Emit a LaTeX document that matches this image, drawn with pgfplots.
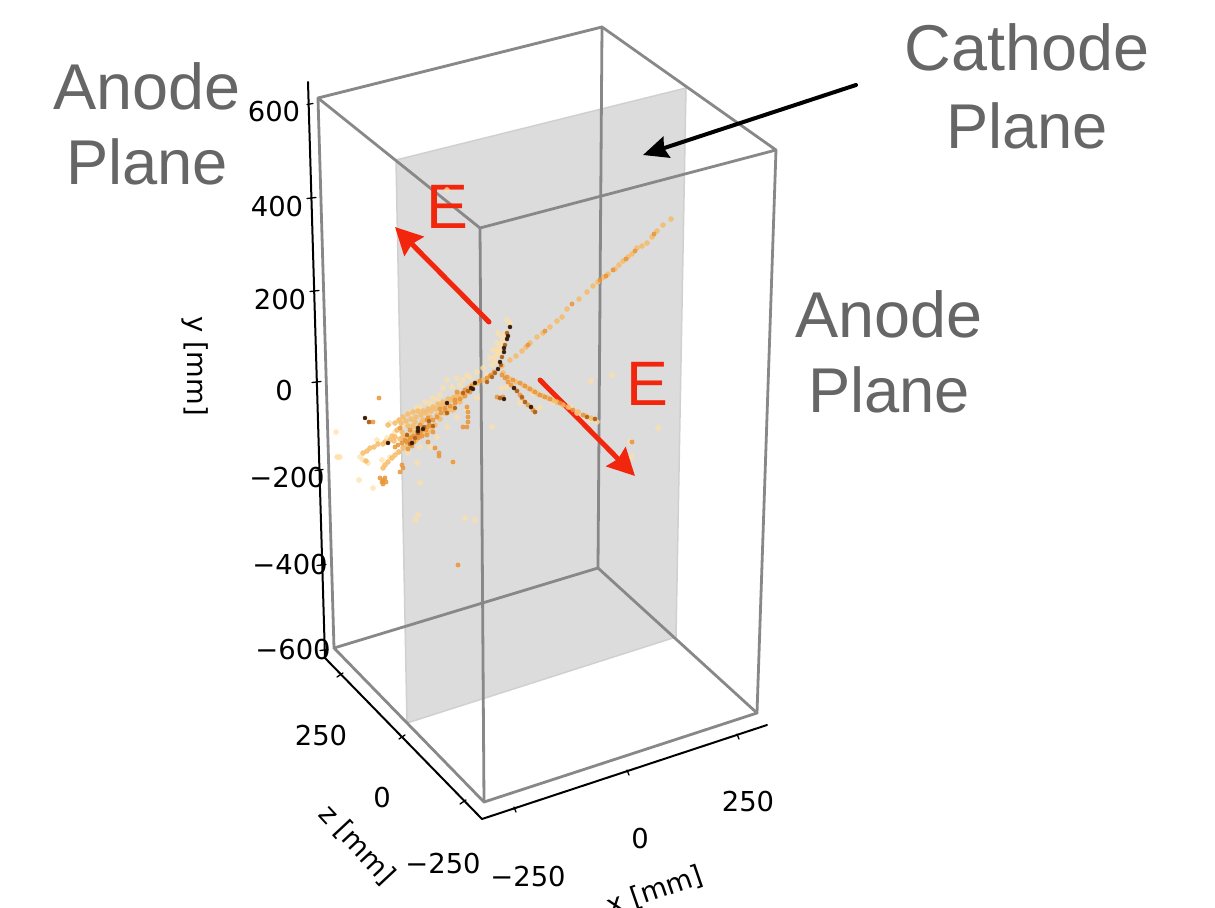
\documentclass[border=0pt]{standalone}
\usepackage{pgfplots}
\pgfplotsset{compat=1.18}
\usepackage{fontspec}
\setmainfont{Liberation Sans}
\newfontfamily\dv{DejaVu Sans}
\usetikzlibrary{arrows.meta}
\definecolor{boxc}{HTML}{888888}
\definecolor{planec}{HTML}{DCDCDC}
\definecolor{planee}{HTML}{D0D0D0}
\definecolor{annot}{HTML}{666666}
\definecolor{redc}{HTML}{F2260C}
\definecolor{h0}{HTML}{FFE0A6}
\definecolor{h1}{HTML}{F7BC68}
\definecolor{h2}{HTML}{E9963A}
\definecolor{h3}{HTML}{B0661F}
\definecolor{h4}{HTML}{3A1C0A}
\pgfplotstableread{
x y
507 320
510 323
502 337
498 333
497 343
493 350
490 358
495 357
492 365
483 368
477 372
467 375
457 378
447 380
452 387
440 395
460 385
437 400
430 403
420 407
410 413
400 420
390 423
463 380
470 377
487 375
443 388
433 398
425 402
417 408
405 425
395 432
387 438
377 440
360 457
368 463
382 460
390 457
398 452
408 453
420 447
430 447
437 437
447 427
457 417
467 410
477 398
453 462
417 463
420 483
418 515
465 518
492 427
502 388
507 387
520 403
540 407
570 407
577 413
590 420
597 422
553 402
533 393
336 432
337 457
340 457
359 480
373 488
363 460
612 375
591 381
658 428
630 442
632 457
447 190
475 520
415 520
338 457
499 350
501 345
503 340
505 333
497 355
500 352
495 362
497 350
}\hitshalo
\pgfplotstableread{
x y
671 219
663 225
657 231
652 237
647 243
642 246
637 248
632 254
628 257
623 261
619 265
615 269
608 274
604 277
598 282
593 286
587 292
579 299
567 309
562 317
557 321
550 327
543 333
537 337
530 343
526 347
522 351
516 356
510 360
502 366
475 383
468 388
463 393
458 395
453 398
448 399
443 402
438 404
433 407
428 409
423 411
418 411
413 412
408 414
403 417
399 420
395 423
388 425
483 380
477 383
467 392
462 397
457 401
453 407
449 410
445 413
440 419
435 425
432 428
428 432
424 434
420 437
416 440
412 443
407 446
403 448
399 452
395 455
392 458
388 462
385 465
383 468
460 402
453 410
447 413
437 415
430 417
423 420
415 422
417 428
412 432
407 435
403 437
400 439
394 441
383 444
378 444
374 447
370 448
367 451
363 453
366 461
478 382
472 385
465 391
460 394
455 397
451 400
446 404
441 406
436 409
431 411
426 413
421 415
416 417
411 419
406 421
401 423
395 437
390 440
385 442
397 430
392 436
402 432
408 426
413 426
422 422
503 373
510 379
516 382
523 385
528 388
533 391
538 394
543 396
548 398
553 400
557 402
563 405
568 407
578 412
586 416
591 418
}\hitslight
\pgfplotstableread{
x y
654 234
635 251
626 259
613 270
606 276
600 280
572 304
545 331
528 345
420 432
427 427
433 432
412 437
407 442
405 440
418 435
467 407
468 412
468 417
468 422
467 427
463 427
427 435
428 442
435 448
439 453
439 456
402 465
403 468
400 472
380 478
383 480
386 482
383 484
382 482
385 478
369 422
373 422
379 398
453 462
500 398
497 397
503 397
507 377
520 383
530 389
540 395
550 399
560 403
573 410
583 415
595 419
502 375
508 382
514 388
520 395
525 402
531 407
535 412
513 380
525 386
535 392
545 397
632 442
457 392
445 408
440 409
427 420
420 425
410 430
400 428
395 447
428 418
455 400
465 390
472 386
480 381
490 376
458 565
470 392
465 396
460 399
455 403
450 406
445 410
441 413
437 417
433 420
429 424
425 428
421 431
417 432
414 436
410 438
406 441
402 443
398 445
410 440
414 442
418 438
422 436
426 430
430 426
412 446
408 449
487 378
491 375
494 372
505 378
511 385
517 391
522 398
528 405
533 410
}\hitsorange
\pgfplotstableread{
x y
502 357
505 345
522 397
525 402
517 391
447 413
433 426
418 433
407 435
410 444
463 393
468 391
455 408
487 382
492 377
495 373
507 333
501 365
429 421
424 427
415 438
535 412
595 419
587 417
500 398
369 422
}\hitsbrown
\pgfplotstableread{
x y
510 327
508 336
507 339
504 348
504 352
500 362
498 369
475 383
471 388
473 389
447 403
423 429
418 428
412 443
388 443
365 418
504 399
514 388
531 407
418 431
}\hitsdark
\pgfplotstableread{
x y
307 104.5
313 103.5
nan nan
307 198.5
316 197.5
nan nan
310 291.5
319 290.5
nan nan
312 382.5
321 381.5
nan nan
315 470.5
323 469.5
nan nan
317 565.5
326 564.5
nan nan
320 650.5
328 649.5
nan nan
337 677
343 673
nan nan
399 739
405 735
nan nan
460 804
466 800
nan nan
514 807
516 812
nan nan
627 770
629 775
nan nan
737 734
739 739
}\ticksegs
\begin{document}
\begin{tikzpicture}
\begin{axis}[
  scale only axis, width=1215bp, height=908bp,
  xmin=0, xmax=1215, ymin=0, ymax=908, y dir=reverse,
  hide axis, clip=true, unbounded coords=jump,
  every axis plot post/.append style={line cap=round, line join=round}]
% cathode plane
\addplot[fill=planec, draw=planee, line width=1.5bp] coordinates {(396,160) (686,88) (676,637) (407,723)} -- cycle;
% wire box
\addplot[boxc, line width=2.8bp] coordinates {(318,98) (602,27) (776,150) (480,228) (318,98)};
\addplot[boxc, line width=2.8bp] coordinates {(334,648) (598,568) (757,713) (484,802) (334,648)};
\addplot[boxc, line width=2.8bp] coordinates {(318,98) (334,648)};
\addplot[boxc, line width=2.8bp] coordinates {(602,27) (598,568)};
\addplot[boxc, line width=2.8bp] coordinates {(776,150) (757,713)};
\addplot[boxc, line width=2.8bp] coordinates {(480,228) (484,802)};
% axes
\addplot[black, line width=2bp] coordinates {(308,82) (325,658) (482,819) (767,725)};
\addplot[black, line width=1.3bp] table {\ticksegs};
% hits
\addplot[only marks, mark=*, mark size=2.6bp, color=h0, opacity=0.7] table {\hitshalo};
\addplot[only marks, mark=*, mark size=2.5bp, color=h1, opacity=0.85] table {\hitslight};
\addplot[only marks, mark=*, mark size=2.2bp, color=h2, opacity=0.85] table {\hitsorange};
\addplot[only marks, mark=*, mark size=2bp, color=h3] table {\hitsbrown};
\addplot[only marks, mark=*, mark size=2bp, color=h4] table {\hitsdark};
% arrows
\addplot[redc, line width=5bp, line cap=butt, -{Stealth[length=27bp,width=27bp,inset=3bp]}] coordinates {(489,322) (395,227)};
\addplot[redc, line width=5bp, line cap=butt, -{Stealth[length=27bp,width=27bp,inset=3bp]}] coordinates {(540,380) (635,476)};
\addplot[black, line width=4bp, line cap=butt, -{Stealth[length=25bp,width=22bp,inset=3bp]}] coordinates {(856,85) (643,155)};
% annotations
\tikzset{ann/.style={text=annot, font=\fontsize{65}{70}\selectfont, inner sep=0pt}}
\tikzset{pln/.style={text=annot, font=\fontsize{63.5}{70}\selectfont, inner sep=0pt}}
\tikzset{ee/.style={text=redc, font=\fontsize{63}{70}\selectfont, inner sep=0pt}}
\tikzset{tl/.style={text=black, font=\dv\fontsize{27.5}{30}\selectfont, inner sep=0pt}}
\node[ann] at (axis cs:1027,47) {Cathode};
\node[pln] at (axis cs:1027,126) {Plane};
\node[ann] at (axis cs:147,86) {Anode};
\node[pln] at (axis cs:147,162) {Plane};
\node[ann] at (axis cs:889,314) {Anode};
\node[pln] at (axis cs:889,390) {Plane};
\node[ee] at (axis cs:447,207) {E};
\node[ee] at (axis cs:647,384) {E};
\node[tl] at (axis cs:274,112) {600};
\node[tl] at (axis cs:277,207) {400};
\node[tl] at (axis cs:280,300) {200};
\node[tl] at (axis cs:284,391) {0};
\node[tl] at (axis cs:287,478) {−200};
\node[tl] at (axis cs:290,565) {−400};
\node[tl] at (axis cs:293,650) {−600};
\node[tl] at (axis cs:321,736) {250};
\node[tl] at (axis cs:382,798) {0};
\node[tl] at (axis cs:443,864) {−250};
\node[tl] at (axis cs:528,877) {−250};
\node[tl] at (axis cs:640,839) {0};
\node[tl] at (axis cs:748,802) {250};
\node[tl, rotate=-90] at (axis cs:195,366) {y [mm]};
\node[tl, rotate=-47] at (axis cs:357,845) {z [mm]};
\node[tl, rotate=19] at (axis cs:655,891) {x [mm]};
\end{axis}
\pgfresetboundingbox
\useasboundingbox (0,0) rectangle (1215bp,908bp);
\end{tikzpicture}
\end{document}
